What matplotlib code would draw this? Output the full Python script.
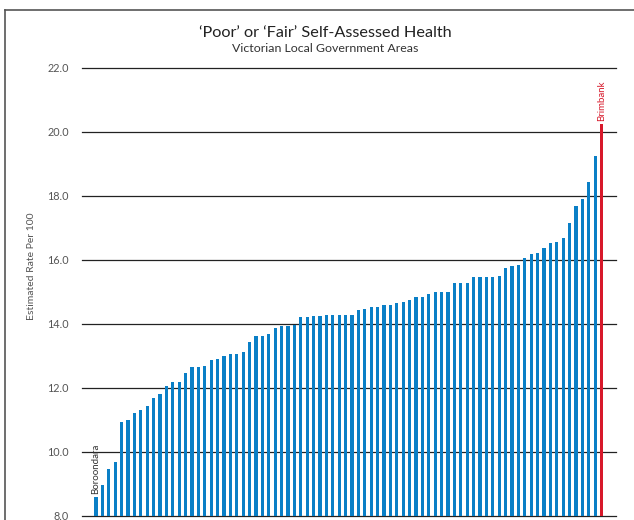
import matplotlib
matplotlib.use('Agg')
import matplotlib.pyplot as plt
from matplotlib.lines import Line2D

# estimated rate per 100, sorted low -> high, one bar per LGA
rates = [
    8.60, 8.97, 9.47, 9.69, 10.95, 11.00, 11.22, 11.31, 11.44, 11.69,
    11.82, 12.06, 12.19, 12.19, 12.47, 12.67, 12.67, 12.69, 12.88, 12.91,
    13.01, 13.06, 13.06, 13.12, 13.44, 13.62, 13.62, 13.69, 13.87, 13.94,
    13.94, 13.97, 14.22, 14.22, 14.25, 14.25, 14.28, 14.28, 14.28, 14.28,
    14.28, 14.44, 14.47, 14.53, 14.53, 14.59, 14.59, 14.66, 14.69, 14.75,
    14.84, 14.84, 14.94, 15.00, 15.00, 15.00, 15.28, 15.28, 15.28, 15.47,
    15.47, 15.47, 15.47, 15.50, 15.75, 15.81, 15.84, 16.06, 16.19, 16.22,
    16.38, 16.53, 16.56, 16.69, 17.16, 17.69, 17.91, 18.44, 19.25, 20.25,
]
labelled = {0: 'Boroondara', 79: 'Brimbank'}
highlight = 'Brimbank'
yticks = [8.0, 10.0, 12.0, 14.0, 16.0, 18.0, 20.0, 22.0]

title = '\u2018Poor\u2019 or \u2018Fair\u2019 Self-Assessed Health'
subtitle = 'Victorian Local Government Areas'
ylabel = 'Estimated Rate Per 100'

BLUE = '#0a7fc6'
RED = '#d7182a'

plt.rcParams['font.family'] = ['Lato', 'DejaVu Sans']

W, H = 634, 520
fig = plt.figure(figsize=(W / 100, H / 100), dpi=100)

# axes box in pixel coords of the reference
left, right, top, bottom = 82, 616, 68, 516
ax = fig.add_axes([left / W, 1 - bottom / H, (right - left) / W, (bottom - top) / H])

x = list(range(len(rates)))
colors = [RED if labelled.get(i) == highlight else BLUE for i in x]
ax.bar(x, [r - yticks[0] for r in rates], bottom=yticks[0], width=0.5,
       color=colors, zorder=3)

for i, name in labelled.items():
    ax.text(i, rates[i] + 0.1, name, rotation=90, ha='center', va='bottom',
            fontsize=7, color=RED if name == highlight else '#333333')

ax.set_xlim(-2.2, 81.25)
ax.set_ylim(yticks[0], yticks[-1])
ax.set_yticks(yticks)
ax.set_yticklabels(['%.1f' % t for t in yticks])
ax.set_xticks([])
ax.tick_params(axis='y', length=0, pad=9.5, labelsize=7.8, labelcolor='#555555')
for s in ax.spines.values():
    s.set_visible(False)

# horizontal rules
for t in yticks:
    ax.axhline(t, color='#222222', lw=0.9, zorder=1, clip_on=False)

fig.text(32 / W, 1 - 266 / H, ylabel, rotation=90, ha='center', va='center',
         fontsize=7.5, color='#555555')
fig.text(325 / W, 1 - 33 / H, title, ha='center', va='center',
         fontsize=11.7, color='#222222')
fig.text(325 / W, 1 - 48 / H, subtitle, ha='center', va='center',
         fontsize=8.9, color='#333333')

# outer frame (cropped at right and bottom in the reference)
fig.add_artist(Line2D([5 / W, 5 / W], [0, 1 - 10 / H], color='#555555', lw=1.2))
fig.add_artist(Line2D([5 / W, 1], [1 - 10 / H, 1 - 10 / H], color='#555555', lw=1.2))

fig.savefig('out.png', dpi=100)
